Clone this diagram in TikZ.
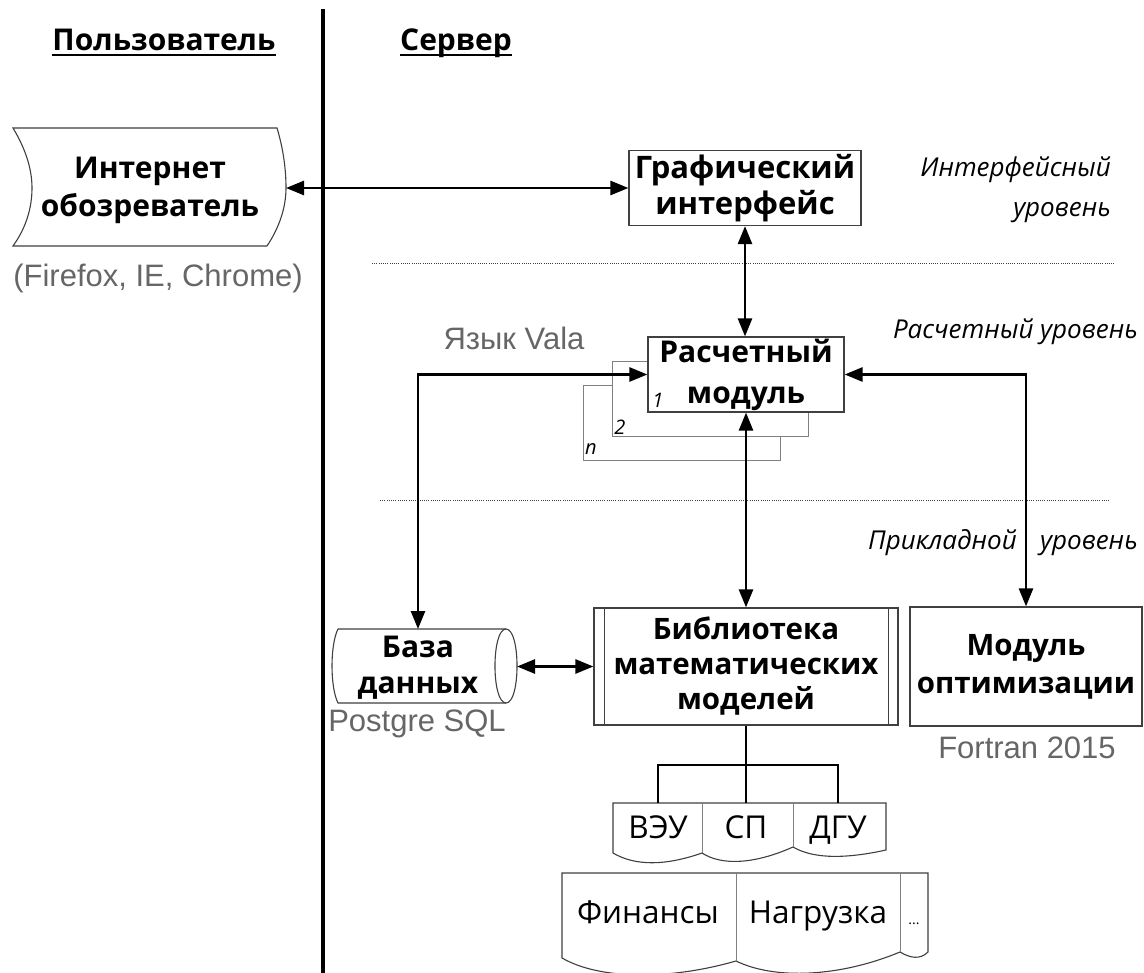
\documentclass[tikz,border=0pt]{standalone}
\usepackage{fontspec}
\setmainfont{Open Sans}
\newfontfamily\arialf{Liberation Sans}
\usetikzlibrary{arrows.meta}
\definecolor{edge}{gray}{0.25}
\definecolor{lightedge}{gray}{0.5}
\definecolor{graytxt}{gray}{0.4}
\begin{document}
\begin{tikzpicture}[x=1pt,y=-1pt,
  every node/.style={inner sep=0pt},
  boldtxt/.style={font=\bfseries\fontsize{30}{36}\selectfont, align=center},
  mainbox/.style={boldtxt, draw=edge, line width=1.2pt, fill=white},
  thinbox/.style={draw=lightedge, line width=0.9pt, fill=white},
  conn/.style={line width=2.6pt, {Triangle[length=18pt,width=14pt]}-{Triangle[length=18pt,width=14pt]}},
  tree/.style={line width=2.6pt},
  lvl/.style={font=\itshape\fontsize{26}{40}\selectfont, align=right},
  graylbl/.style={text=graytxt, font=\arialf\fontsize{31}{33}\selectfont},
  celltxt/.style={font=\fontsize{31.5}{33}\selectfont},
  docedge/.style={draw=edge, line width=1.1pt},
  divider/.style={draw=lightedge, line width=0.9pt},
  dotline/.style={draw=black!75, line width=0.8pt, dash pattern=on 1pt off 1.2pt},
  numlbl/.style={font=\itshape\fontsize{20}{22}\selectfont},
]
\useasboundingbox (0,0) rectangle (1144,973);

% header
\node[boldtxt, anchor=base] (user) at (164,51) {Пользователь};
\draw[line width=1.8pt] ([yshift=-4pt]user.base west) -- ([yshift=-4pt]user.base east);
\node[boldtxt, anchor=base] (server) at (456,51) {Сервер};
\draw[line width=1.8pt] ([yshift=-4pt]server.base west) -- ([yshift=-4pt]server.base east);
\coordinate (sepTop) at (323,9);
\coordinate (sepBot) at (323,973);
\draw[line width=4pt] (sepTop) -- (sepBot);

% browser
\draw[docedge, fill=white] (13,128) -- (277,128) .. controls (283,148) and (286,168) .. (286,188) .. controls (286,208) and (279,228) .. (267,246) -- (13,246) .. controls (26,228) and (32,208) .. (32,188) .. controls (32,168) and (25,148) .. (13,128) -- cycle;
\node[boldtxt, font=\bfseries\fontsize{30}{38}\selectfont] (browser) at (150,190) {Интернет\\обозреватель};
\coordinate (browserE) at (286,188);
\node[graylbl] (browserNote) at (158,278) {(Firefox, IE, Chrome)};

% GUI
\node[mainbox, minimum width=232pt, minimum height=75pt, font=\bfseries\fontsize{31}{36}\selectfont] (gui) at (745,188) {Графический\\интерфейс};
\node[lvl, anchor=east] (lvlI) at (1111,190) {Интерфейсный\\уровень};
\draw[dotline] (372,263) -- (1115,263);

% calc modules
\node[thinbox, minimum width=197pt, minimum height=75pt] (calc3) at (681.5,422.5) {};
\node[thinbox, minimum width=196pt, minimum height=75pt] (calc2) at (710,398.5) {};
\node[mainbox, minimum width=196pt, minimum height=75pt, font=\bfseries\fontsize{30}{41}\selectfont] (calc1) at (746,374.5) {Расчетный\\модуль};
\node[numlbl] (n1) at (658,400) {1};
\node[numlbl] (n2) at (620,427) {2};
\node[numlbl] (nn) at (591,449) {n};
\node[graylbl] (vala) at (514,338) {Язык Vala};
\node[lvl, anchor=east] (lvlC) at (1138,332) {Расчетный уровень};
\draw[dotline] (380,500) -- (1110,500);
\node[lvl, anchor=base east] (lvlA1) at (1017,549) {Прикладной};
\node[lvl, anchor=base west] (lvlA2) at (1040,549) {уровень};

% database
\draw[docedge, fill=white] (506,629) -- (338,629) .. controls (330,645) and (330,687) .. (338,703) -- (506,703) .. controls (520.7,703) and (520.7,629) .. (506,629) -- cycle;
\draw[docedge] (506,629) .. controls (491.3,629) and (491.3,703) .. (506,703);
\node[boldtxt] (db) at (418,668) {База\\данных};
\coordinate (dbN) at (418,629);
\coordinate (dbE) at (517,666.5);
\node[graylbl] (pg) at (417,724) {Postgre SQL};

% library
\node[mainbox, minimum width=304pt, minimum height=117pt, font=\bfseries\fontsize{29.5}{35}\selectfont] (lib) at (746,666.5) {Библиотека\\математических\\моделей};
\draw[docedge] ([xshift=11pt]lib.north west) -- ([xshift=11pt]lib.south west);
\draw[docedge] ([xshift=-10pt]lib.north east) -- ([xshift=-10pt]lib.south east);

% optimization
\node[mainbox, minimum width=232pt, minimum height=119pt, font=\bfseries\fontsize{29.5}{38}\selectfont] (opt) at (1026,666.5) {Модуль\\оптимизации};
\node[graylbl] (fortran) at (1027,748) {Fortran 2015};

% connectors
\draw[conn] (browserE) -- (gui.west);
\draw[conn] (gui.south) -- (gui.south |- calc1.north);
\draw[conn] (dbN) |- (calc1.west);
\draw[conn] (opt.north) |- (calc1.east);
\draw[conn] (calc1.south) -- (lib.north);
\draw[conn] (dbE) -- (lib.west);

% model strip
\draw[docedge, fill=white] (613,803) -- (886,803) -- (886,850) .. controls (850,858) and (815,860) .. (793,847) .. controls (755,864) and (722,866) .. (702,853) .. controls (665,866) and (635,866) .. (613,853) -- cycle;
\draw[divider] (702,803) -- (702,853);
\draw[divider] (793,803) -- (793,847);
\coordinate (cellTop) at (0,803);
\coordinate (junc) at (0,765);
\node[celltxt, anchor=base] (veu) at (658,838) {ВЭУ};
\node[celltxt, anchor=base] (sp) at (746,838) {СП};
\node[celltxt, anchor=base] (dgu) at (838,838) {ДГУ};
\draw[tree] (lib.south) -- (lib.south |- junc);
\draw[tree] (veu.north |- cellTop) -- (veu.north |- junc) -- (dgu.north |- junc) -- (dgu.north |- cellTop);
\draw[tree] (sp.north |- junc) -- (sp.north |- cellTop);

% data strip
\draw[docedge, fill=white] (562,873) -- (928,873) -- (928,952) .. controls (920,960) and (910,958) .. (900,952) .. controls (840,977) and (775,980) .. (736,961) .. controls (670,980) and (600,980) .. (562,958) -- cycle;
\draw[divider] (736,873) -- (736,961);
\draw[divider] (900,873) -- (900,952);
\node[celltxt, anchor=base] (fin) at (648,923) {Финансы};
\node[celltxt, anchor=base] (load) at (818,923) {Нагрузка};
\node[font=\fontsize{14}{14}\selectfont, anchor=base] (more) at (914,924) {...};
\end{tikzpicture}
\end{document}
